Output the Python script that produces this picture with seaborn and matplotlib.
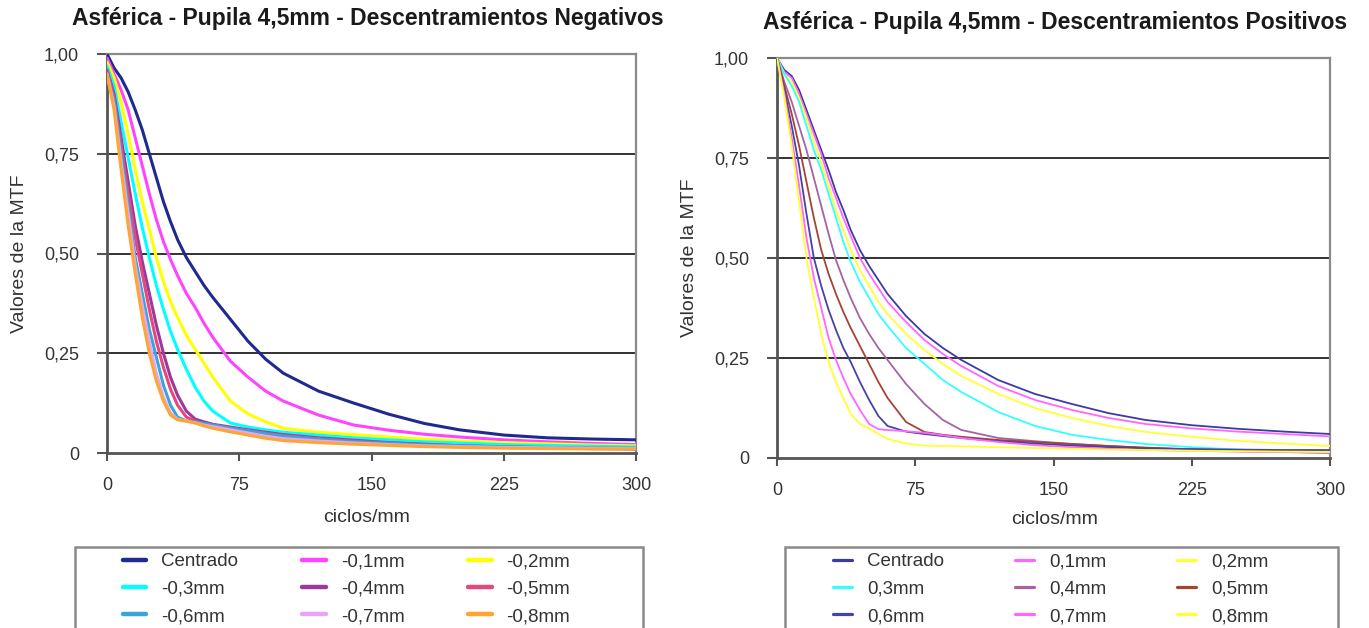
import matplotlib
matplotlib.use("Agg")
import matplotlib.pyplot as plt
from matplotlib.lines import Line2D
from matplotlib.patches import Rectangle
import seaborn as sns
import pandas as pd

# spatial frequency (ciclos/mm), shared by every curve
freq = [0, 4, 8, 12, 16, 20, 24, 28, 32, 36, 40, 45, 50, 55, 60, 70, 80, 90,
        100, 120, 140, 160, 180, 200, 225, 250, 275, 300]

# negative decentrations
neg_centrado = [1.00, 0.965, 0.94, 0.905, 0.86, 0.81, 0.75, 0.69, 0.63, 0.58, 0.535, 0.49, 0.455, 0.42,
                0.39, 0.335, 0.28, 0.235, 0.20, 0.155, 0.125, 0.097, 0.074, 0.058, 0.045, 0.038, 0.035, 0.033]
neg_01 = [0.99, 0.95, 0.91, 0.86, 0.79, 0.72, 0.65, 0.585, 0.53, 0.485, 0.445, 0.40, 0.365, 0.325,
          0.29, 0.23, 0.19, 0.155, 0.13, 0.095, 0.07, 0.057, 0.047, 0.04, 0.033, 0.028, 0.024, 0.021]
neg_02 = [0.98, 0.94, 0.88, 0.80, 0.71, 0.63, 0.56, 0.49, 0.43, 0.38, 0.34, 0.295, 0.26, 0.225,
          0.19, 0.13, 0.098, 0.078, 0.062, 0.052, 0.046, 0.04, 0.035, 0.03, 0.026, 0.023, 0.02, 0.018]
neg_03 = [0.97, 0.92, 0.83, 0.74, 0.65, 0.565, 0.49, 0.42, 0.36, 0.305, 0.26, 0.21, 0.165, 0.13,
          0.105, 0.075, 0.065, 0.058, 0.052, 0.045, 0.038, 0.033, 0.028, 0.025, 0.021, 0.019, 0.017, 0.015]
neg_04 = [0.96, 0.90, 0.79, 0.68, 0.57, 0.48, 0.40, 0.32, 0.25, 0.19, 0.145, 0.105, 0.085, 0.078,
          0.072, 0.065, 0.058, 0.052, 0.046, 0.038, 0.032, 0.026, 0.022, 0.018, 0.015, 0.013, 0.011, 0.010]
neg_05 = [0.96, 0.89, 0.77, 0.65, 0.54, 0.45, 0.36, 0.28, 0.215, 0.16, 0.12, 0.09, 0.08, 0.074,
          0.07, 0.063, 0.056, 0.05, 0.044, 0.036, 0.03, 0.025, 0.021, 0.018, 0.015, 0.013, 0.012, 0.011]
neg_06 = [0.95, 0.88, 0.75, 0.62, 0.49, 0.40, 0.31, 0.24, 0.17, 0.12, 0.09, 0.08, 0.078, 0.074,
          0.07, 0.062, 0.055, 0.048, 0.042, 0.034, 0.028, 0.024, 0.02, 0.018, 0.016, 0.014, 0.013, 0.012]
neg_07 = [0.95, 0.87, 0.73, 0.60, 0.47, 0.37, 0.28, 0.20, 0.14, 0.10, 0.085, 0.08, 0.076, 0.07,
          0.066, 0.058, 0.05, 0.042, 0.036, 0.03, 0.025, 0.021, 0.018, 0.016, 0.014, 0.013, 0.012, 0.011]
neg_08 = [0.95, 0.86, 0.71, 0.57, 0.45, 0.34, 0.25, 0.18, 0.13, 0.095, 0.083, 0.08, 0.075, 0.068,
          0.062, 0.053, 0.045, 0.037, 0.031, 0.026, 0.022, 0.019, 0.016, 0.014, 0.012, 0.011, 0.010, 0.010]

# positive decentrations
pos_centrado = [1.00, 0.97, 0.955, 0.92, 0.87, 0.82, 0.77, 0.72, 0.665, 0.62, 0.57, 0.52, 0.48, 0.445,
                0.41, 0.355, 0.31, 0.275, 0.245, 0.195, 0.16, 0.135, 0.112, 0.095, 0.082, 0.073, 0.066, 0.060]
pos_01 = [1.00, 0.965, 0.95, 0.91, 0.86, 0.81, 0.76, 0.70, 0.65, 0.60, 0.555, 0.50, 0.46, 0.425,
          0.39, 0.34, 0.295, 0.26, 0.23, 0.18, 0.145, 0.12, 0.10, 0.085, 0.074, 0.066, 0.06, 0.054]
pos_02 = [1.00, 0.96, 0.94, 0.90, 0.85, 0.79, 0.74, 0.68, 0.62, 0.57, 0.52, 0.47, 0.43, 0.39,
          0.36, 0.31, 0.27, 0.235, 0.205, 0.16, 0.125, 0.10, 0.08, 0.065, 0.053, 0.043, 0.036, 0.030]
pos_03 = [1.00, 0.96, 0.93, 0.89, 0.83, 0.77, 0.72, 0.66, 0.60, 0.54, 0.49, 0.44, 0.40, 0.36,
          0.33, 0.275, 0.235, 0.195, 0.165, 0.115, 0.08, 0.058, 0.045, 0.035, 0.027, 0.021, 0.017, 0.014]
pos_04 = [1.00, 0.94, 0.89, 0.83, 0.77, 0.70, 0.63, 0.56, 0.495, 0.445, 0.40, 0.35, 0.31, 0.275,
          0.245, 0.185, 0.135, 0.095, 0.07, 0.05, 0.042, 0.035, 0.03, 0.025, 0.021, 0.017, 0.015, 0.0125]
pos_05 = [1.00, 0.93, 0.86, 0.78, 0.69, 0.60, 0.52, 0.46, 0.41, 0.365, 0.325, 0.28, 0.235, 0.19,
          0.15, 0.09, 0.065, 0.058, 0.053, 0.045, 0.04, 0.035, 0.03, 0.026, 0.022, 0.019, 0.017, 0.015]
pos_06 = [1.00, 0.92, 0.83, 0.73, 0.61, 0.50, 0.43, 0.37, 0.32, 0.275, 0.24, 0.19, 0.145, 0.105,
          0.08, 0.066, 0.06, 0.055, 0.05, 0.042, 0.036, 0.031, 0.027, 0.024, 0.022, 0.021, 0.02, 0.020]
pos_07 = [1.00, 0.91, 0.80, 0.68, 0.55, 0.45, 0.375, 0.30, 0.245, 0.20, 0.16, 0.12, 0.085, 0.072,
          0.07, 0.067, 0.063, 0.057, 0.05, 0.04, 0.032, 0.027, 0.023, 0.02, 0.018, 0.016, 0.015, 0.014]
pos_08 = [1.00, 0.90, 0.78, 0.64, 0.50, 0.40, 0.31, 0.24, 0.19, 0.15, 0.11, 0.085, 0.074, 0.06,
          0.048, 0.036, 0.031, 0.03, 0.029, 0.027, 0.025, 0.023, 0.021, 0.02, 0.018, 0.017, 0.016, 0.015]

neg_labels = ["Centrado", "-0,1mm", "-0,2mm", "-0,3mm", "-0,4mm", "-0,5mm", "-0,6mm", "-0,7mm", "-0,8mm"]
pos_labels = ["Centrado", "0,1mm", "0,2mm", "0,3mm", "0,4mm", "0,5mm", "0,6mm", "0,7mm", "0,8mm"]
neg_series = [neg_centrado, neg_01, neg_02, neg_03, neg_04, neg_05, neg_06, neg_07, neg_08]
pos_series = [pos_centrado, pos_01, pos_02, pos_03, pos_04, pos_05, pos_06, pos_07, pos_08]

neg_colors = ["#1f2a8c", "#ff44ff", "#ffff00", "#00ffff", "#9b3a9b",
              "#e4487c", "#3aa6d8", "#e6a6f2", "#ffa533"]
pos_colors = ["#3c3ca0", "#ff66ff", "#ffff33", "#33ffff", "#a464a4",
              "#a44432", "#4444a4", "#ff66ff", "#ffff33"]

ticks_x = [0, 75, 150, 225, 300]
ticks_y = [0, 0.25, 0.5, 0.75, 1.0]
ticklabels_y = ["0", "0,25", "0,50", "0,75", "1,00"]


def long_frame(series, labels):
    rows = []
    for lab, vals in zip(labels, series):
        rows.append(pd.DataFrame({"ciclos": freq, "mtf": vals, "serie": lab}))
    return pd.concat(rows, ignore_index=True)


sns.set_style("white")
plt.rcParams["font.family"] = ["Liberation Sans", "DejaVu Sans"]

W, H = 1369, 628
fig = plt.figure(figsize=(W / 100, H / 100), dpi=100)


def px_box(x0, y0, x1, y1):
    # pixel box (top-left origin) to figure fraction
    return [x0 / W, 1 - y1 / H, (x1 - x0) / W, (y1 - y0) / H]


panels = [
    dict(box=(107, 54, 636, 453), series=neg_series, labels=neg_labels, colors=neg_colors, lw=2.2,
         title="Asférica - Pupila 4,5mm - Descentramientos Negativos", title_xy=(368, 18),
         ylab_x=20, xlab_xy=(367, 517), leg_box=(75, 547, 643, 640), leg_xy=(123, 553),
         hl=1.25, cs=3.4),
    dict(box=(777, 58, 1330, 458), series=pos_series, labels=pos_labels, colors=pos_colors, lw=1.3,
         title="Asférica - Pupila 4,5mm - Descentramientos Positivos", title_xy=(1055, 22),
         ylab_x=690, xlab_xy=(1055, 520), leg_box=(785, 547, 1338, 640), leg_xy=(833, 553),
         hl=1.0, cs=3.8),
]

# legend fills column by column, the reference reads row by row
row_order = [0, 3, 6, 1, 4, 7, 2, 5, 8]

for p in panels:
    ax = fig.add_axes(px_box(*p["box"]))
    df = long_frame(p["series"], p["labels"])
    sns.lineplot(data=df, x="ciclos", y="mtf", hue="serie", hue_order=p["labels"],
                 palette=dict(zip(p["labels"], p["colors"])), estimator=None, sort=False,
                 linewidth=p["lw"], legend=False, ax=ax, zorder=3)
    ax.set_xlim(0, 300)
    ax.set_ylim(0, 1)
    ax.set_xticks(ticks_x)
    ax.set_xticklabels([str(t) for t in ticks_x])
    ax.set_yticks(ticks_y)
    ax.set_yticklabels(ticklabels_y)
    ax.set_xlabel("")
    ax.set_ylabel("")
    for y in ticks_y[1:4]:
        ax.axhline(y, color="#222222", lw=1.3, zorder=1)
    for side in ["left", "bottom"]:
        ax.spines[side].set_color("#555555")
        ax.spines[side].set_linewidth(2.0)
    for side in ["top", "right"]:
        ax.spines[side].set_color("#8a8a8a")
        ax.spines[side].set_linewidth(1.6)
    ax.tick_params(axis="y", direction="out", length=7, width=1.5, color="#555555",
                   pad=13, labelsize=13, labelcolor="#333333", left=True)
    ax.tick_params(axis="x", direction="out", length=6, width=1.5, color="#555555",
                   pad=11, labelsize=13, labelcolor="#333333", bottom=True)

    fig.text(p["title_xy"][0] / W, 1 - p["title_xy"][1] / H, p["title"], ha="center", va="center",
             fontsize=16.5, fontweight="bold", color="#1a1a1a")
    cy = (p["box"][1] + p["box"][3]) / 2
    fig.text(p["ylab_x"] / W, 1 - cy / H, "Valores de la MTF", rotation=90, ha="center",
             va="center", fontsize=14, color="#333333")
    fig.text(p["xlab_xy"][0] / W, 1 - p["xlab_xy"][1] / H, "ciclos/mm", ha="center", va="center",
             fontsize=14, color="#333333")

    # legend below the chart, box cut by the page edge
    lx0, ly0, lx1, ly1 = p["leg_box"]
    fig.add_artist(Rectangle((lx0 / W, 1 - ly1 / H), (lx1 - lx0) / W, (ly1 - ly0) / H,
                             transform=fig.transFigure, fill=False, edgecolor="#8a8a8a",
                             lw=1.8, clip_on=False))
    handles = [Line2D([], [], color=c, lw=p["lw"] + 1.0) for c in p["colors"]]
    fig.legend([handles[i] for i in row_order], [p["labels"][i] for i in row_order],
               loc="upper left", bbox_to_anchor=(p["leg_xy"][0] / W, 1 - p["leg_xy"][1] / H),
               ncol=3, frameon=False, borderpad=0, borderaxespad=0, fontsize=13.5,
               handlelength=p["hl"], handletextpad=0.8, columnspacing=p["cs"],
               labelspacing=0.55, labelcolor="#333333")

fig.savefig("out.png", dpi=100)
